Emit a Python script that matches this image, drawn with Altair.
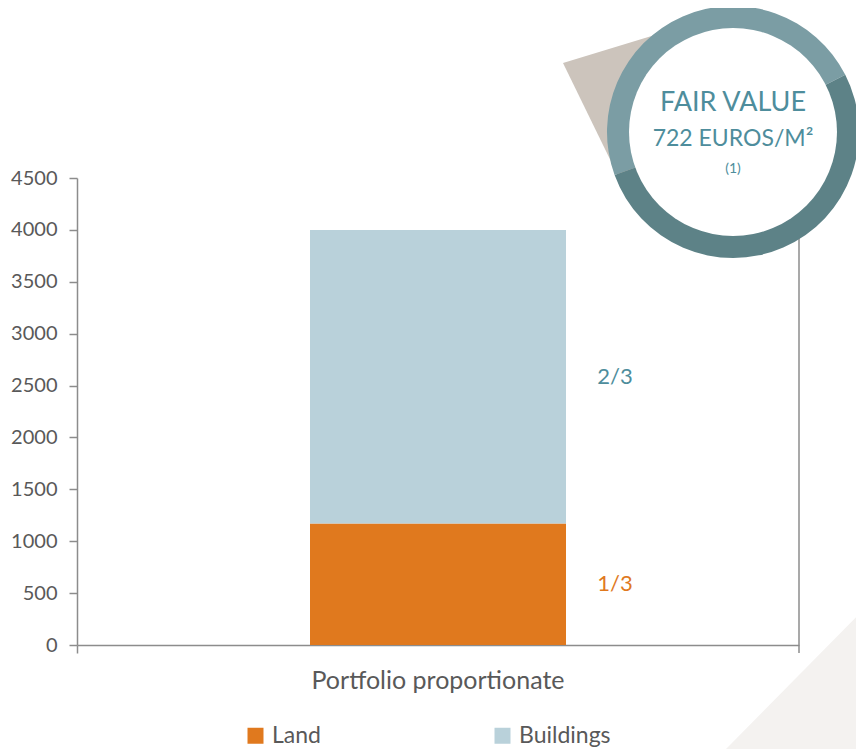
import math
import altair as alt
import pandas as pd

# ---------------- data ----------------
categories = ["Portfolio proportionate"]
segments = ["Land", "Buildings"]
values = [1170, 2830]
shares = ["1/3", "2/3"]
y_ticks = [0, 500, 1000, 1500, 2000, 2500, 3000, 3500, 4000, 4500]
badge_title = ["FAIR VALUE"]
badge_value = ["722 EUROS/M²"]
badge_note = ["(1)"]

# ---------------- style ----------------
ORANGE = "#E0791E"
LIGHT = "#B9D1DA"
TEAL_TEXT = "#4E8D9C"
RING_LIGHT = "#7B9DA4"
RING_DARK = "#5D8287"
TAIL = "#CCC4BC"
CORNER = "#F4F2F0"
AXIS = "#8C8C8C"
LABEL = "#595959"
FONT = "Lato"

W, H = 722, 467

df = pd.DataFrame({
    "category": categories * len(segments),
    "segment": segments,
    "value": values,
    "share": shares,
    "order": list(range(len(segments))),
})
one = pd.DataFrame({"k": [0]})

y_scale = alt.Scale(domain=[0, 4500], nice=False)
x_scale = alt.Scale(paddingInner=0, paddingOuter=0)

x_enc = alt.X(
    "category:N", scale=x_scale,
    axis=alt.Axis(title=None, bandPosition=0, tickSize=8, labelPadding=15,
                  labelFontSize=25, labelAngle=0, labelColor=LABEL, labelFont=FONT,
                  labelLimit=600,
                  domainColor=AXIS, tickColor=AXIS, domainWidth=1.5, tickWidth=1.5),
)

corner = alt.Chart(one).mark_point(
    shape="M0,0L145,-147L145,40L0,40Z", size=4, filled=True, opacity=1,
    color=CORNER, strokeWidth=0,
).encode(x=alt.value(648), y=alt.value(572))

bars = alt.Chart(df).mark_bar(size=256).encode(
    x=x_enc,
    y=alt.Y("value:Q", stack="zero", scale=y_scale,
            axis=alt.Axis(values=y_ticks, format="d", title=None, grid=False, tickSize=8,
                          labelPadding=12, labelFontSize=20, labelColor=LABEL,
                          labelFont=FONT, domainColor=AXIS, tickColor=AXIS,
                          domainWidth=1.5, tickWidth=1.5)),
    color=alt.Color("segment:N", scale=alt.Scale(domain=segments, range=[ORANGE, LIGHT]),
                    legend=alt.Legend(orient="none", legendX=167, legendY=546,
                                      direction="horizontal", title=None,
                                      symbolType="square", symbolSize=256,
                                      symbolStrokeWidth=0, symbolOpacity=1,
                                      labelFontSize=23, labelFont=FONT,
                                      labelColor=LABEL, labelOffset=5,
                                      columnPadding=170, padding=0)),
    order=alt.Order("order:Q"),
)

labels = alt.Chart(df).transform_window(
    cum="sum(value)", sort=[alt.SortField("order")], frame=[None, 0]
).transform_calculate(
    mid="datum.cum - datum.value / 2"
).mark_text(dx=177, fontSize=22, font=FONT).encode(
    x=alt.X("category:N", scale=x_scale),
    y=alt.Y("mid:Q", scale=y_scale, title=None),
    text="share:N",
    color=alt.Color("segment:N", scale=alt.Scale(domain=segments, range=[ORANGE, TEAL_TEXT]),
                    legend=None),
)

right_rule = alt.Chart(one).mark_rule(color=AXIS, strokeWidth=1.5).encode(
    x=alt.value(W), y=alt.value(0), y2=alt.value(H + 8)
)

CX, CY = 656, -46
tail = alt.Chart(one).mark_arc(color=TAIL).encode(
    x=alt.value(486), y=alt.value(-115),
    theta=alt.value(math.radians(73)), theta2=alt.value(math.radians(154)),
    radius=alt.value(150),
)
ring_light = alt.Chart(one).mark_arc(color=RING_LIGHT).encode(
    x=alt.value(CX), y=alt.value(CY),
    theta=alt.value(math.radians(250)), theta2=alt.value(math.radians(423)),
    radius=alt.value(126), radius2=alt.value(103),
)
ring_dark = alt.Chart(one).mark_arc(color=RING_DARK).encode(
    x=alt.value(CX), y=alt.value(CY),
    theta=alt.value(math.radians(63)), theta2=alt.value(math.radians(250)),
    radius=alt.value(126), radius2=alt.value(103),
)
inner = alt.Chart(one).mark_arc(color="white").encode(
    x=alt.value(CX), y=alt.value(CY),
    theta=alt.value(0), theta2=alt.value(2 * math.pi),
    radius=alt.value(104),
)

def badge_text(lines, y, size):
    return alt.Chart(pd.DataFrame({"t": lines})).mark_text(
        font=FONT, fontSize=size, color=TEAL_TEXT, baseline="middle", align="center"
    ).encode(x=alt.value(CX), y=alt.value(y), text="t:N")

t1 = badge_text(badge_title, -75, 27)
t2 = badge_text(badge_value, -39, 23)
t3 = badge_text(badge_note, -9, 14)

chart = alt.layer(
    corner, bars, labels, right_rule, tail, ring_light, ring_dark, inner, t1, t2, t3
).resolve_scale(color="independent").properties(
    width=W, height=H,
    padding={"left": 69, "top": 170, "right": 57, "bottom": 104},
    autosize=alt.AutoSizeParams(type="none"),
).configure_view(stroke=None)

chart.save("out.html", embed_options={"renderer": "svg", "actions": False})
